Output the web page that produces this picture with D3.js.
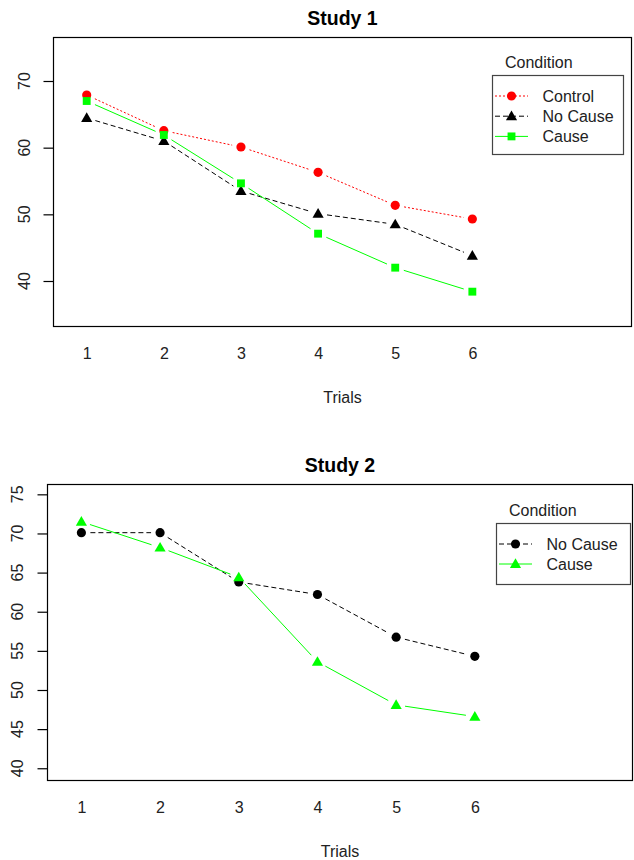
<!DOCTYPE html>
<html>
<head>
<meta charset="utf-8">
<script src="https://cdn.jsdelivr.net/npm/d3@7"></script>
<style>
body { margin: 0; background: #fff; }
svg { display: block; font-family: "Liberation Sans", Arial, sans-serif; }
</style>
</head>
<body>
<div id="chart"></div>
<script>

// ---- data ----
var trials = [1, 2, 3, 4, 5, 6];

var study1Control = [67.9, 62.55, 60.1, 56.3, 51.35, 49.3];
var study1NoCause = [64.45, 61.0, 53.5, 50.1, 48.5, 43.8];
var study1Cause = [67.0, 61.9, 54.65, 47.1, 42.0, 38.4];

var study2NoCause = [70.1, 70.1, 63.8, 62.2, 56.75, 54.3];
var study2Cause = [71.5, 68.2, 64.4, 53.6, 48.1, 46.6];

var study1Ticks = [40, 50, 60, 70];
var study2Ticks = [40, 45, 50, 55, 60, 65, 70, 75];

var legendTitle = "Condition";
var xTitle = "Trials";

var W = 634, H = 860;

var svg = d3.select("#chart").append("svg")
	.attr("width", W)
	.attr("height", H);

// ---- panel definitions ----
var panels = [
	{
		title : "Study 1",
		left : 53, right : 632, top : 37, bottom : 326,
		xDomain : [0.563, 8.07],
		yDomain : [33.25, 76.6],
		yTicks : study1Ticks,
		labelX : 29,
		legend : { x : 492, y : 75, w : 131, h : 79, titleY : 62, rowY : 21, rowStep : 20.2 },
		series : [
			{ name : "Control", values : study1Control, color : "#ff0000", dash : "2,2", shape : "circle" },
			{ name : "No Cause", values : study1NoCause, color : "#000000", dash : "5,3", shape : "triangle" },
			{ name : "Cause", values : study1Cause, color : "#00ff00", dash : null, shape : "square" }
		]
	},
	{
		title : "Study 2",
		left : 47, right : 633, top : 484, bottom : 780,
		xDomain : [0.563, 8.01],
		yDomain : [38.5, 76.32],
		yTicks : study2Ticks,
		labelX : 30,
		legend : { x : 496, y : 523, w : 134, h : 61, titleY : 510, rowY : 21, rowStep : 20 },
		series : [
			{ name : "No Cause", values : study2NoCause, color : "#000000", dash : "5,3", shape : "circle" },
			{ name : "Cause", values : study2Cause, color : "#00ff00", dash : null, shape : "triangle" }
		]
	}
];

var symbolSize = { circle : 66, square : 62, triangle : 54 };
var symbolType = { circle : d3.symbolCircle, square : d3.symbolSquare, triangle : d3.symbolTriangle };

function drawSymbol(g, shape, color, cx, cy) {
	g.append("path")
		.attr("d", d3.symbol().type(symbolType[shape]).size(symbolSize[shape])())
		.attr("transform", "translate(" + cx + "," + (shape == "triangle" ? cy + 0.8 : cy) + ")")
		.attr("fill", color);
}// END: drawSymbol

panels.forEach(function(p) {

	var g = svg.append("g");

	var x = d3.scaleLinear().domain(p.xDomain).range([p.left, p.right]);
	var y = d3.scaleLinear().domain(p.yDomain).range([p.bottom, p.top]);

	// plot box
	g.append("rect")
		.attr("x", p.left + 0.5)
		.attr("y", p.top + 0.5)
		.attr("width", p.right - p.left - 1)
		.attr("height", p.bottom - p.top)
		.attr("fill", "none")
		.attr("stroke", "#000")
		.attr("stroke-width", 1.2);

	// y axis: ticks only, labels rotated like R
	var yAxis = g.append("g")
		.attr("transform", "translate(" + (p.left + 0.5) + ",0)")
		.call(d3.axisLeft(y).tickValues(p.yTicks).tickSize(10).tickFormat(""));
	yAxis.select(".domain").remove();
	yAxis.selectAll(".tick line").attr("stroke", "#000").attr("stroke-width", 1.2);

	g.selectAll(".ylab").data(p.yTicks).enter().append("text")
		.attr("class", "ylab")
		.attr("transform", function(d) {
			return "translate(" + (p.left - p.labelX) + "," + y(d) + ") rotate(-90)";
		})
		.attr("dy", "0.35em")
		.attr("text-anchor", "middle")
		.attr("font-size", 16)
		.attr("fill", "#222")
		.text(function(d) { return d; });

	// x axis labels (no tick marks)
	var xAxis = g.append("g")
		.attr("transform", "translate(0," + p.bottom + ")")
		.call(d3.axisBottom(x).tickValues(trials).tickSize(0).tickPadding(22).tickFormat(d3.format("d")));
	xAxis.select(".domain").remove();
	xAxis.selectAll("text")
		.attr("font-size", 16)
		.attr("font-family", "Liberation Sans, Arial, sans-serif")
		.attr("fill", "#222");

	// titles
	g.append("text")
		.attr("x", (p.left + p.right) / 2)
		.attr("y", p.bottom + 71)
		.attr("dy", "0.35em")
		.attr("text-anchor", "middle")
		.attr("font-size", 16)
		.attr("fill", "#222")
		.text(xTitle);

	g.append("text")
		.attr("x", (p.left + p.right) / 2)
		.attr("y", p.top - 19)
		.attr("dy", "0.35em")
		.attr("text-anchor", "middle")
		.attr("font-size", 19.5)
		.attr("font-weight", "bold")
		.attr("fill", "#000")
		.text(p.title);

	// series: R type = "b" (lines broken around points)
	var gap = 9;
	p.series.forEach(function(s) {

		var pts = s.values.map(function(v, i) {
			return [ x(trials[i]), y(v) ];
		});

		for (var i = 0; i < pts.length - 1; i++) {
			var a = pts[i], b = pts[i + 1];
			var dx = b[0] - a[0], dy = b[1] - a[1];
			var len = Math.sqrt(dx * dx + dy * dy);
			var ux = dx / len, uy = dy / len;
			g.append("line")
				.attr("x1", a[0] + ux * gap)
				.attr("y1", a[1] + uy * gap)
				.attr("x2", b[0] - ux * gap)
				.attr("y2", b[1] - uy * gap)
				.attr("stroke", s.color)
				.attr("stroke-width", 1)
				.attr("stroke-dasharray", s.dash);
		}

		pts.forEach(function(pt) {
			drawSymbol(g, s.shape, s.color, pt[0], pt[1]);
		});
	});// END: series loop

	// legend
	var L = p.legend;
	g.append("text")
		.attr("x", L.x + 13)
		.attr("y", L.titleY)
		.attr("dy", "0.35em")
		.attr("font-size", 16)
		.attr("fill", "#222")
		.text(legendTitle);

	g.append("rect")
		.attr("x", L.x + 0.5)
		.attr("y", L.y + 0.5)
		.attr("width", L.w)
		.attr("height", L.h)
		.attr("fill", "#fff")
		.attr("stroke", "#444")
		.attr("stroke-width", 1.2);

	p.series.forEach(function(s, i) {
		var ry = L.y + L.rowY + i * L.rowStep;
		g.append("line")
			.attr("x1", L.x + 3)
			.attr("x2", L.x + 36)
			.attr("y1", ry)
			.attr("y2", ry)
			.attr("stroke", s.color)
			.attr("stroke-width", 1)
			.attr("stroke-dasharray", s.dash);
		drawSymbol(g, s.shape, s.color, L.x + 19.5, ry);
		g.append("text")
			.attr("x", L.x + 50.5)
			.attr("y", ry)
			.attr("dy", "0.35em")
			.attr("font-size", 16)
			.attr("fill", "#222")
			.text(s.name);
	});

});// END: panels loop

</script>
</body>
</html>
